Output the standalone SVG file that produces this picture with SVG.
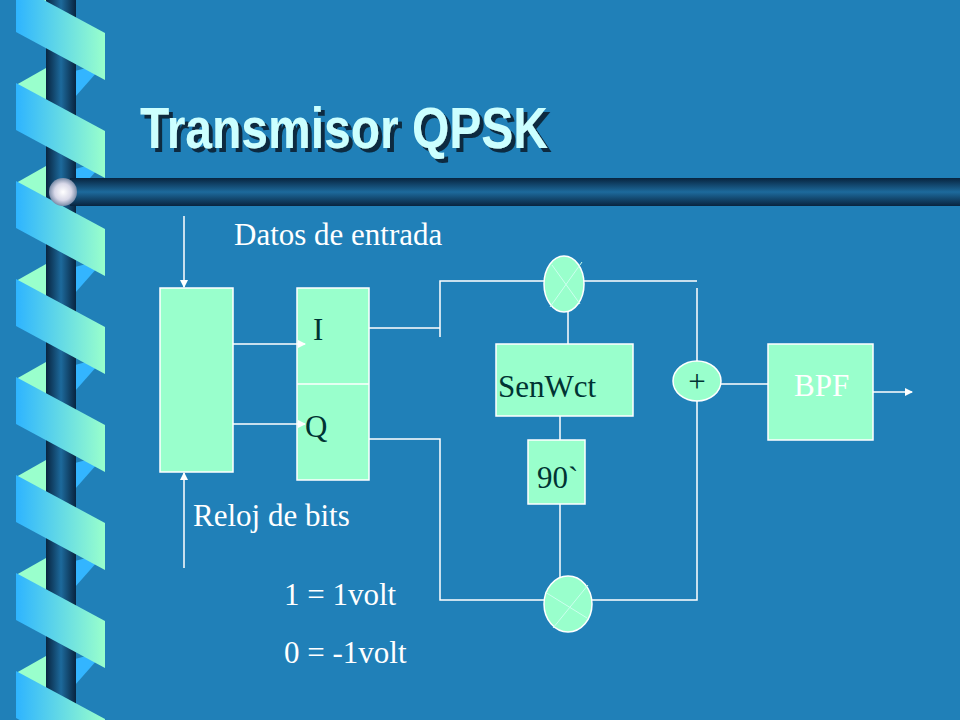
<svg xmlns="http://www.w3.org/2000/svg" width="960" height="720" viewBox="0 0 960 720">
<style>
.box{fill:#99ffcc;stroke:#ffffff;stroke-width:1.5}
.w{stroke:#ffffff;stroke-width:1.5;fill:none}
.lbl{font-family:"Liberation Serif",serif;font-size:31px;fill:#ffffff}
.dk{font-family:"Liberation Serif",serif;font-size:31px;fill:#003333}
</style>
<defs>
<filter id="sh" x="-5%" y="-20%" width="115%" height="150%"><feFlood flood-color="#0a2a40"/><feComposite in2="SourceAlpha" operator="in"/><feOffset dx="4" dy="4" result="s"/><feMerge><feMergeNode in="s"/><feMergeNode in="SourceGraphic"/></feMerge></filter>
<linearGradient id="band" x1="0" x2="1" y1="0" y2="0"><stop offset="0" stop-color="#2eb4ff"/><stop offset="1" stop-color="#99ffcc"/></linearGradient>
<linearGradient id="post" x1="0" x2="1"><stop offset="0" stop-color="#08243f"/><stop offset="0.5" stop-color="#1d6a9c"/><stop offset="1" stop-color="#08243f"/></linearGradient>
<linearGradient id="bar" x1="0" x2="0" y1="0" y2="1"><stop offset="0" stop-color="#08243f"/><stop offset="0.5" stop-color="#1d6a9c"/><stop offset="1" stop-color="#08243f"/></linearGradient>
<radialGradient id="ball"><stop offset="0" stop-color="#ffffff"/><stop offset="0.6" stop-color="#d8d8e8"/><stop offset="1" stop-color="#7a8ca8"/></radialGradient>
<pattern id="back" patternUnits="userSpaceOnUse" x="0" y="-15" width="120" height="98">
<polygon points="16,2 46,-15 46,32" fill="#99ffcc"/><polygon points="16,100 46,83 46,130" fill="#99ffcc"/>
<polygon points="75,-12 105,-20 75,14" fill="#33b5ff"/><polygon points="75,86 105,78 75,112" fill="#33b5ff"/>
</pattern>
<pattern id="front" patternUnits="userSpaceOnUse" x="0" y="-15" width="120" height="98">
<polygon points="16,0 105,48 105,95 16,47" fill="url(#band)"/>
<polygon points="16,-98 105,-50 105,-3 16,-51" fill="url(#band)"/>
</pattern>
<marker id="ar" markerWidth="8" markerHeight="8" refX="7" refY="4" orient="auto" markerUnits="userSpaceOnUse"><path d="M0,0 L8,4 L0,8 Z" fill="#ffffff"/></marker>
</defs>
<rect width="960" height="720" fill="#2080b8"/>
<g id="decor">
<rect x="0" y="0" width="110" height="720" fill="url(#back)"/>
<rect x="46" y="0" width="30" height="720" fill="url(#post)"/>
<rect x="0" y="0" width="110" height="720" fill="url(#front)"/>
<rect x="70" y="178" width="890" height="28" fill="url(#bar)"/>
<circle cx="63" cy="192" r="14" fill="url(#ball)"/>
</g>
<g id="title">
<text x="140" y="148" font-family="Liberation Sans,sans-serif" font-weight="bold" font-size="58" fill="#ccffff" textLength="408" lengthAdjust="spacingAndGlyphs" filter="url(#sh)">Transmisor QPSK</text>
</g>
<g id="serpar"><rect class="box" x="160" y="288" width="73" height="184"/></g>
<g id="iq"><rect class="box" x="297" y="288" width="72" height="192"/><line class="w" x1="297" y1="384" x2="369" y2="384"/>
<text class="dk" x="313" y="340">I</text><text class="dk" x="305" y="437">Q</text></g>
<g id="mult1"><ellipse class="box" cx="564" cy="284" rx="20" ry="28"/><path d="M550,307 L582,262 M552,265 L580,304" stroke="#ccffee" stroke-width="1"/></g>
<g id="mult2"><ellipse class="box" cx="568" cy="604" rx="24" ry="28"/><path d="M553,628 L588,585 M545,592 L587,618" stroke="#ccffee" stroke-width="1"/></g>
<g id="osc"><rect class="box" x="496" y="344" width="137" height="72"/><text class="dk" x="498" y="397">SenWct</text></g>
<g id="phase"><rect class="box" x="528" y="440" width="57" height="64"/><text class="dk" x="537" y="488">90`</text></g>
<g id="sum"><ellipse class="box" cx="697" cy="381" rx="24" ry="20"/><text class="dk" x="697" y="392" text-anchor="middle" font-size="26">+</text></g>
<g id="bpf"><rect class="box" x="768" y="344" width="105" height="96"/><text class="lbl" x="794" y="396">BPF</text></g>
<g id="connectors">
<line class="w" x1="184" y1="216" x2="184" y2="287" marker-end="url(#ar)"/>
<line class="w" x1="184" y1="568" x2="184" y2="473" marker-end="url(#ar)"/>
<line class="w" x1="233" y1="344" x2="305" y2="344" marker-end="url(#ar)"/>
<line class="w" x1="233" y1="424" x2="305" y2="424" marker-end="url(#ar)"/>
<polyline class="w" points="369,328 440,328"/>
<polyline class="w" points="440,337 440,281 544,281"/>
<polyline class="w" points="584,281 697,281"/>
<polyline class="w" points="369,439 440,439 440,600 544,600"/>
<polyline class="w" points="592,600 697,600 697,401"/>
<polyline class="w" points="697,288 697,361"/>
<line class="w" x1="568" y1="312" x2="568" y2="344"/>
<line class="w" x1="560" y1="416" x2="560" y2="440"/>
<line class="w" x1="560" y1="504" x2="560" y2="577"/>
<line class="w" x1="721" y1="384" x2="768" y2="384"/>
<line class="w" x1="873" y1="392" x2="912" y2="392" marker-end="url(#ar)"/>
</g>
<g id="labels">
<text class="lbl" x="234" y="245">Datos de entrada</text>
<text class="lbl" x="193" y="526">Reloj de bits</text>
<text class="lbl" x="284" y="605">1 = 1volt</text>
<text class="lbl" x="284" y="663">0 = -1volt</text>
</g>
</svg>
